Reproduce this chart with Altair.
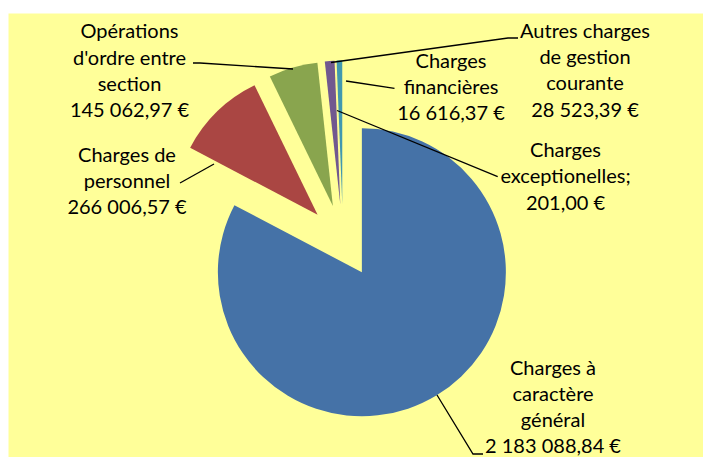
import math
import altair as alt
import pandas as pd

# ---------------- data ----------------
categories = [
    "Charges à caractère général",
    "Charges de personnel",
    "Opérations d'ordre entre section",
    "Autres charges de gestion courante",
    "Charges exceptionelles",
    "Charges financières",
]
values = [2183088.84, 266006.57, 145062.97, 28523.39, 201.00, 16616.37]
label_names = [
    "Charges à\ncaractère\ngénéral",
    "Charges de\npersonnel",
    "Opérations\nd'ordre entre\nsection",
    "Autres charges\nde gestion\ncourante",
    "Charges\nexceptionelles;",
    "Charges\nfinancières",
]
colors = ["#4572A7", "#AA4643", "#89A54E", "#71588F", "#DB843D", "#4198AF"]

# ---------------- layout (plot pixels) ----------------
W, H = 695, 444
CX, CY = 335.0, 228.0        # pie centre
RADIUS = 144
EXPLODE = 36.5               # explosion distance of every slice
# first-line centre of each label block
label_pos = [(545, 355.5), (119, 142.7), (121.5, 19.3), (577, 18.7), (557.5, 138), (443, 48.7)]
# leader lines (polyline points)
leaders = [
    [(475, 441), (465, 441), (429, 382)],
    [(172, 170), (206, 151)],
    [(185, 50), (192, 50), (285, 56)],
    [(510, 25), (500, 25), (323, 49.5)],
    [(489.7, 163.7), (329, 97.5)],
    [(386.5, 75.3), (338, 68)],
]


def fr(v):
    s = f"{v:,.2f}"
    return s.replace(",", " ").replace(".", ",") + " €"


total = sum(values)
rows = []
cum = 0.0
for c, v in zip(categories, values):
    f0 = cum / total
    cum += v
    f1 = cum / total
    mid = (f0 + f1) / 2 * 2 * math.pi
    rows.append({
        "cat": c, "value": v, "t0": f0, "t1": f1,
        "cx": CX + EXPLODE * math.sin(mid),
        "cy": CY - EXPLODE * math.cos(mid),
    })
pie_df = pd.DataFrame(rows)

lab_df = pd.DataFrame([
    {"cat": c, "text": n + "\n" + fr(v), "lx": p[0], "ly": p[1]}
    for c, n, v, p in zip(categories, label_names, values, label_pos)
])

lead_rows = []
for c, pts in zip(categories, leaders):
    for k, (x, y) in enumerate(pts):
        lead_rows.append({"cat": c, "k": k, "x": x, "y": y})
lead_df = pd.DataFrame(lead_rows)

xs = alt.Scale(domain=[0, W], range=[0, W], nice=False, zero=False)
ys = alt.Scale(domain=[0, H], range=[0, H], nice=False, zero=False)

pie = alt.Chart(pie_df).mark_arc(outerRadius=RADIUS).encode(
    x=alt.X("cx:Q", scale=xs, axis=None),
    y=alt.Y("cy:Q", scale=ys, axis=None),
    theta=alt.Theta("t0:Q", scale=alt.Scale(domain=[0, 1], range=[0, 2 * math.pi]), stack=False),
    theta2="t1:Q",
    color=alt.Color("cat:N", scale=alt.Scale(domain=categories, range=colors), legend=None),
)

lines = alt.Chart(lead_df).mark_line(color="black", strokeWidth=1.3, clip=False).encode(
    x=alt.X("x:Q", scale=xs, axis=None),
    y=alt.Y("y:Q", scale=ys, axis=None),
    detail="cat:N",
    order="k:Q",
)

texts = alt.Chart(lab_df).mark_text(
    align="center", baseline="middle", lineBreak="\n", lineHeight=26.3,
    font="Lato", fontSize=20, color="black",
).encode(
    x=alt.X("lx:Q", scale=xs, axis=None),
    y=alt.Y("ly:Q", scale=ys, axis=None),
    text="text:N",
)

chart = alt.layer(pie, lines, texts).properties(
    width=W, height=H,
    padding={"left": 0, "top": 5, "right": 0, "bottom": 0},
    autosize=alt.AutoSizeParams(type="none"),
    background="white",
).configure_view(fill="#FFFF99", stroke="transparent")

chart.save("out.html", embed_options={"renderer": "svg", "actions": False})
